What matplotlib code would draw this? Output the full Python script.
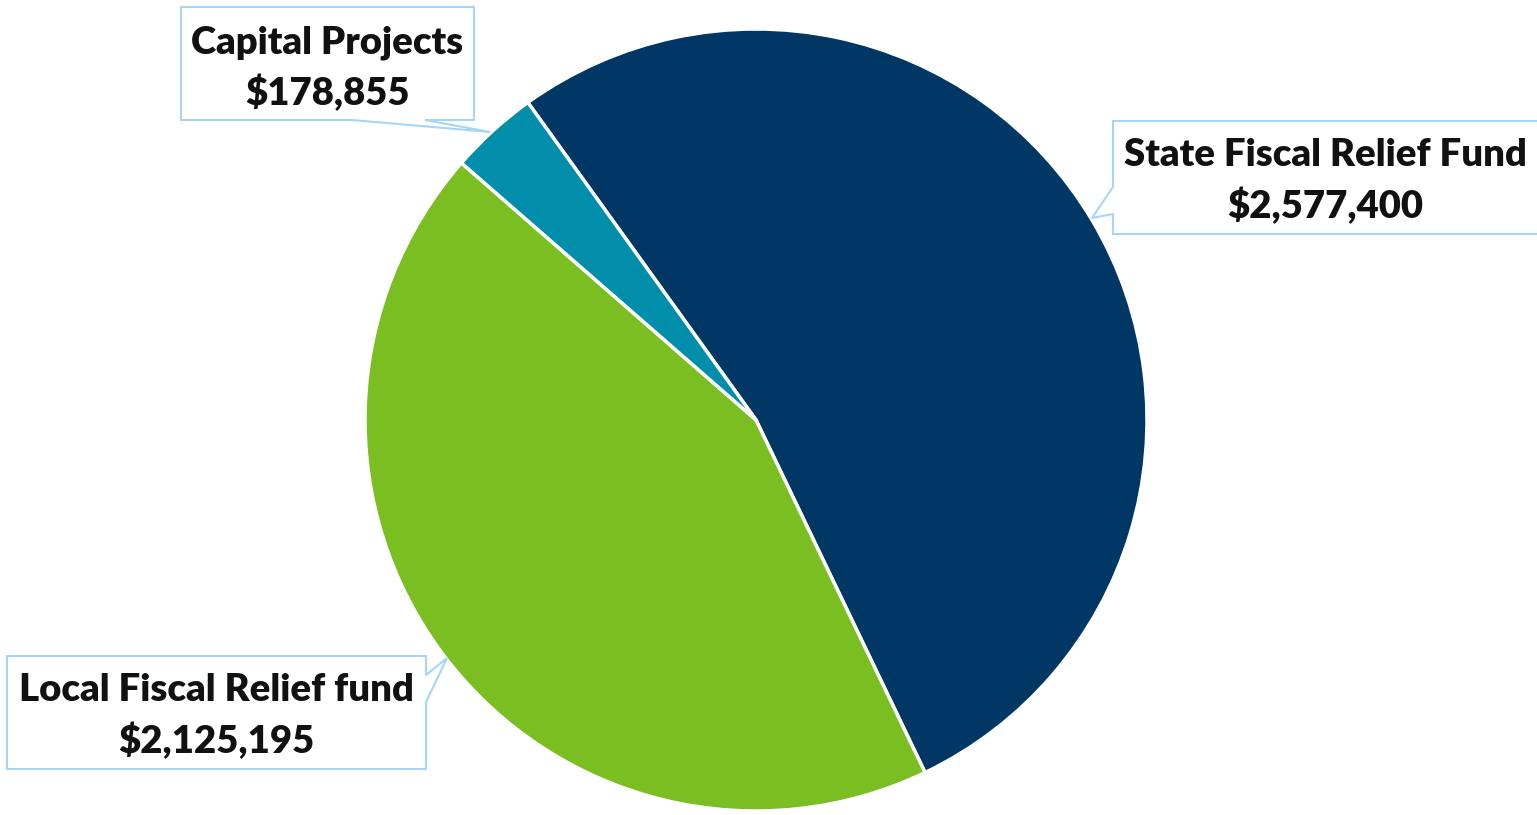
import matplotlib.pyplot as plt
from matplotlib.patches import Polygon

# data
labels = ['State Fiscal Relief Fund', 'Local Fiscal Relief fund', 'Capital Projects']
values = [2577400, 2125195, 178855]
colors = ['#003764', '#7BBE21', '#008EAA']

W, H = 1537, 815
fig = plt.figure(figsize=(W / 100, H / 100), dpi=100)

# pie axes, placed in pixel box (center 756,420 ; radius 390)
ax = fig.add_axes([365 / W, (H - 811) / H, 782 / W, 782 / H])
ax.pie(values, colors=colors, startangle=125.7, counterclock=False,
       radius=1, wedgeprops=dict(edgecolor='white', linewidth=2.5))
ax.set_xlim(-1, 1)
ax.set_ylim(-1, 1)
ax.axis('off')

# overlay in pixel coords for the callouts
ov = fig.add_axes([0, 0, 1, 1])
ov.set_xlim(0, W)
ov.set_ylim(H, 0)
ov.axis('off')

edge = '#A6D5FA'
callouts = [
    # box outline incl. pointer, text center
    ([(181, 7), (474, 7), (474, 120), (425, 120), (490, 132), (352, 120), (181, 120)],
     (327, 68)),
    ([(1113, 121), (1545, 121), (1545, 234), (1113, 234), (1113, 214), (1092, 218), (1113, 187)],
     (1325, 181)),
    ([(7, 656), (426, 656), (426, 675), (447, 658), (426, 702), (426, 769), (7, 769)],
     (216, 716)),
]
order = [2, 0, 1]
for (pts, (tx, ty)), idx in zip(callouts, order):
    ov.add_patch(Polygon(pts, closed=True, facecolor='white', edgecolor=edge, linewidth=1.5))
    txt = '%s\n$%s' % (labels[idx], format(values[idx], ','))
    ov.text(tx, ty, txt, ha='center', va='center', fontsize=27.5, fontweight='heavy',
            family='Lato', color='#111111', linespacing=1.45)

fig.savefig('out.png', dpi=100)
